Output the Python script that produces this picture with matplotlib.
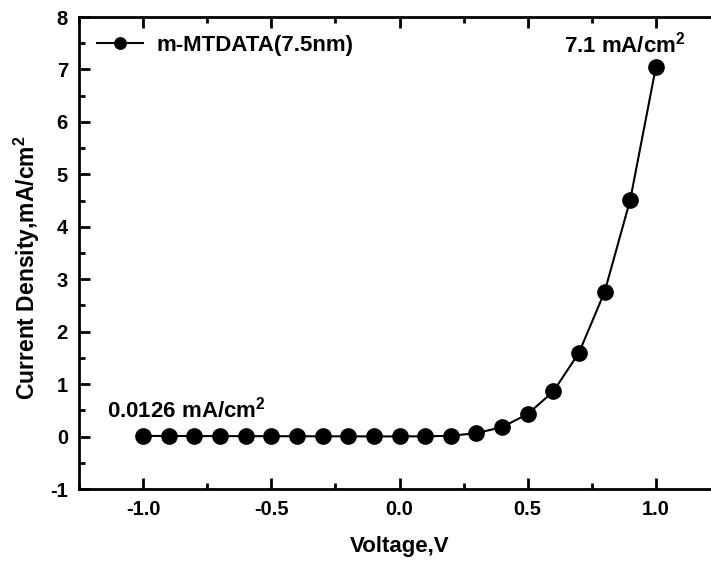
import numpy as np
import matplotlib
matplotlib.use('Agg')
import matplotlib.pyplot as plt
import matplotlib.ticker as ticker

plt.rcParams['font.family'] = ['Liberation Sans', 'DejaVu Sans']
plt.rcParams['font.weight'] = 'bold'
plt.rcParams['axes.unicode_minus'] = False
plt.rcParams['mathtext.fontset'] = 'custom'
plt.rcParams['mathtext.rm'] = 'Liberation Sans:bold'
plt.rcParams['mathtext.bf'] = 'Liberation Sans:bold'

voltage = [-1.0, -0.9, -0.8, -0.7, -0.6, -0.5, -0.4, -0.3, -0.2, -0.1,
           0.0, 0.1, 0.2, 0.3, 0.4, 0.5, 0.6, 0.7, 0.8, 0.9, 1.0]
current = [0.0126, 0.011, 0.010, 0.009, 0.008, 0.007, 0.006, 0.005, 0.004, 0.003,
           0.003, 0.005, 0.015, 0.065, 0.18, 0.43, 0.86, 1.60, 2.76, 4.52, 7.05]
label = 'm-MTDATA(7.5nm)'

fig = plt.figure(figsize=(7.11, 5.65), dpi=100)
ax = fig.add_axes([0.1111, 0.1345, 0.9016, 0.8354])

ax.plot(voltage, current, '-o', color='black', lw=1.5, ms=11, label=label)

ax.set_xlim(-1.25, 1.25)
ax.set_ylim(-1, 8)
ax.xaxis.set_major_locator(ticker.MultipleLocator(0.5))
ax.xaxis.set_minor_locator(ticker.MultipleLocator(0.25))
ax.yaxis.set_major_locator(ticker.MultipleLocator(1))
ax.yaxis.set_minor_locator(ticker.MultipleLocator(0.5))
ax.xaxis.set_major_formatter(ticker.FormatStrFormatter('%.1f'))

for s in ax.spines.values():
    s.set_linewidth(2)
ax.tick_params(which='both', direction='in', top=True, right=False, width=2, labelsize=14.5)
ax.tick_params(which='major', length=8, pad=8)
ax.tick_params(which='minor', length=4)

ax.set_xlabel('Voltage,V', fontsize=16, fontweight='bold', labelpad=12)
ax.set_ylabel('Current Density,mA/cm$^2$', fontsize=16.5, fontweight='bold')
ax.yaxis.set_label_coords(-0.058, 0.468)

ax.text(0.877, 7.47, '7.1 mA/cm$^2$', ha='center', va='center', fontsize=16, fontweight='bold')
ax.text(-1.14, 0.51, '0.0126 mA/cm$^2$', ha='left', va='center', fontsize=16, fontweight='bold')

leg = ax.legend(loc='upper left', frameon=False, fontsize=16, handlelength=2.1,
                borderaxespad=0.4, handletextpad=0.6, markerscale=0.75)

fig.savefig('out.png', dpi=100)
